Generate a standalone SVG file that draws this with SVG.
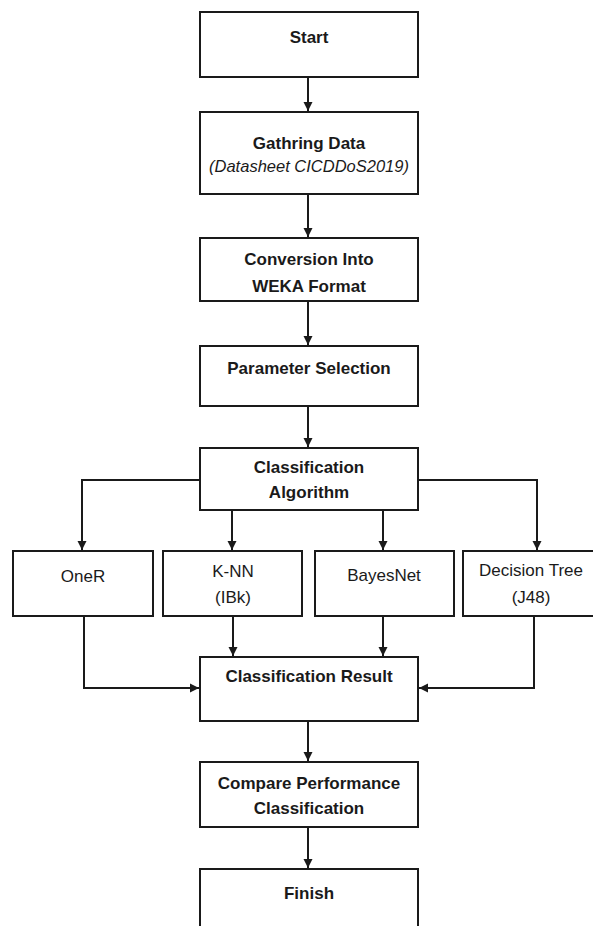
<svg xmlns="http://www.w3.org/2000/svg" width="593" height="926" viewBox="0 0 593 926">
<style>
.box{fill:#fff;stroke:#1a1a1a;stroke-width:2}
.t{font-family:"Liberation Sans",Arial,sans-serif;font-size:17px;fill:#1a1a1a;text-anchor:middle}
.b{font-weight:bold}
.i{font-style:italic;font-size:16.5px}
.c{fill:none;stroke:#1a1a1a;stroke-width:2}
</style>
<defs>
<marker id="ah" markerUnits="userSpaceOnUse" markerWidth="10" markerHeight="10" refX="9" refY="5" orient="auto">
<path d="M0,0.5 L9,5 L0,9.5 Z" fill="#1a1a1a"/>
</marker>
</defs>
<rect width="593" height="926" fill="#fff"/>
<g id="connectors">
<path class="c" d="M308,77 V111" marker-end="url(#ah)"/>
<path class="c" d="M308,194 V237" marker-end="url(#ah)"/>
<path class="c" d="M308,301 V345" marker-end="url(#ah)"/>
<path class="c" d="M308,406 V447" marker-end="url(#ah)"/>
<path class="c" d="M200,480 H82 V550" marker-end="url(#ah)"/>
<path class="c" d="M418,480 H537 V550" marker-end="url(#ah)"/>
<path class="c" d="M232,510 V550" marker-end="url(#ah)"/>
<path class="c" d="M383,510 V550" marker-end="url(#ah)"/>
<path class="c" d="M84,616 V688 H199" marker-end="url(#ah)"/>
<path class="c" d="M233,616 V656" marker-end="url(#ah)"/>
<path class="c" d="M383,616 V656" marker-end="url(#ah)"/>
<path class="c" d="M534,616 V688 H419" marker-end="url(#ah)"/>
<path class="c" d="M308,721 V761" marker-end="url(#ah)"/>
<path class="c" d="M308,827 V868" marker-end="url(#ah)"/>
</g>
<g id="start"><rect class="box" x="200" y="12" width="218" height="65"/><text class="t b" x="309" y="43">Start</text></g>
<g id="gathering"><rect class="box" x="200" y="112" width="218" height="82"/><text class="t b" x="309" y="149">Gathring Data</text><text class="t i" x="309" y="172">(Datasheet CICDDoS2019)</text></g>
<g id="conversion"><rect class="box" x="200" y="238" width="218" height="63"/><text class="t b" x="309" y="265">Conversion Into</text><text class="t b" x="309" y="292">WEKA Format</text></g>
<g id="parameter"><rect class="box" x="200" y="346" width="218" height="60"/><text class="t b" x="309" y="374">Parameter Selection</text></g>
<g id="algorithm"><rect class="box" x="200" y="448" width="218" height="62"/><text class="t b" x="309" y="473">Classification</text><text class="t b" x="309" y="498">Algorithm</text></g>
<g id="oner"><rect class="box" x="13" y="551" width="140" height="65"/><text class="t" x="83" y="582">OneR</text></g>
<g id="knn"><rect class="box" x="163" y="551" width="139" height="65"/><text class="t" x="233" y="577">K-NN</text><text class="t" x="233" y="603">(IBk)</text></g>
<g id="bayesnet"><rect class="box" x="315" y="551" width="139" height="65"/><text class="t" x="384" y="581">BayesNet</text></g>
<g id="decisiontree"><rect class="box" x="463" y="551" width="132" height="65"/><text class="t" x="531" y="576">Decision Tree</text><text class="t" x="531" y="603">(J48)</text></g>
<g id="result"><rect class="box" x="200" y="657" width="218" height="64"/><text class="t b" x="309" y="682">Classification Result</text></g>
<g id="compare"><rect class="box" x="200" y="762" width="218" height="65"/><text class="t b" x="309" y="789">Compare Performance</text><text class="t b" x="309" y="814">Classification</text></g>
<g id="finish"><rect class="box" x="200" y="869" width="218" height="70"/><text class="t b" x="309" y="899">Finish</text></g>
</svg>
